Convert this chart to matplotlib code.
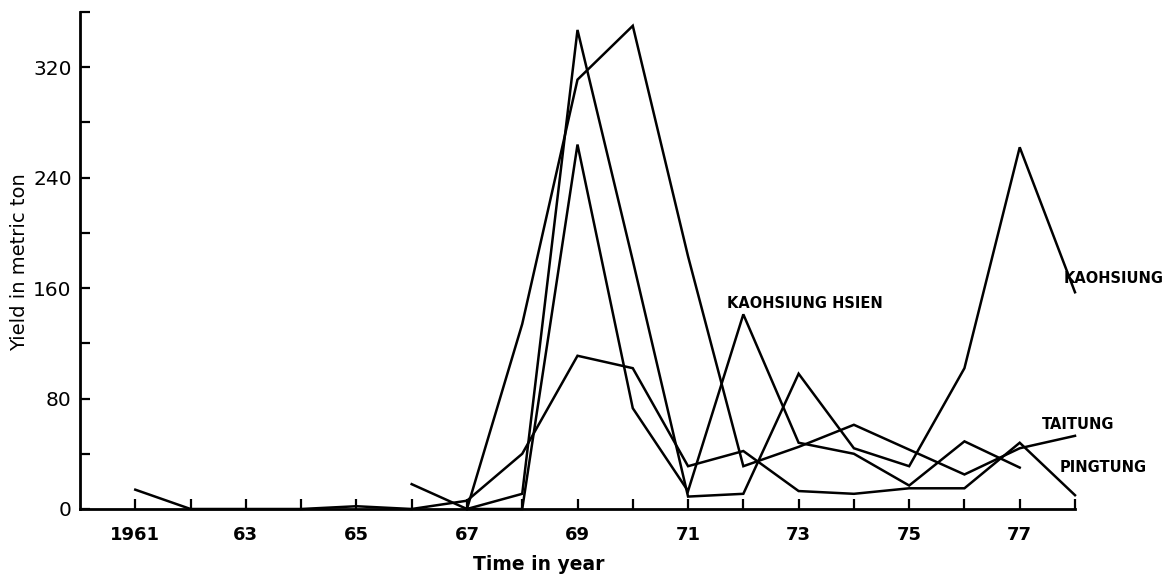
import numpy as np
import matplotlib
matplotlib.use("Agg")
import matplotlib.pyplot as plt

nan = np.nan

years = list(range(1961, 1979))

kaohsiung = [nan, nan, nan, nan, nan, nan,
             0, 11, 347, 180, 9, 11, 98, 44, 31, 102, 262, 157]
kaohsiung_hsien = [nan, nan, nan, nan, nan, nan,
                   0, 0, 264, 73, 13, 141, 48, 40, 17, 49, 30, nan]
taitung = [nan, nan, nan, nan, nan,
           18, 0, 134, 311, 350, 183, 31, 45, 61, 43, 25, 44, 53]
pingtung = [14, 0, 0, 0, 2, 0,
            6, 40, 111, 102, 31, 42, 13, 11, 15, 15, 48, 10]

series = {
    "KAOHSIUNG": kaohsiung,
    "KAOHSIUNG HSIEN": kaohsiung_hsien,
    "TAITUNG": taitung,
    "PINGTUNG": pingtung,
}

label_pos = {
    "KAOHSIUNG": (1977.8, 167),
    "KAOHSIUNG HSIEN": (1971.7, 149),
    "TAITUNG": (1977.4, 61),
    "PINGTUNG": (1977.73, 30),
}

xtick_years = list(range(1961, 1979))
xtick_labels = ["1961" if y == 1961 else (f"{y % 100:02d}" if y % 2 == 1 and y < 1978 else "")
                for y in xtick_years]
ytick_vals = list(range(0, 361, 40))
ytick_labels = [str(v) if v % 80 == 0 and v < 360 else "" for v in ytick_vals]

plt.rcParams['font.family'] = ['DejaVu Sans']

fig = plt.figure(figsize=(11.73, 5.80), dpi=100)
ax = fig.add_axes([80 / 1173, 1 - 509 / 580, 995 / 1173, 497 / 580])

for name, vals in series.items():
    ax.plot(years, vals, color="black", linewidth=1.8, clip_on=False,
            solid_joinstyle="miter")

for name, (lx, ly) in label_pos.items():
    ax.text(lx, ly, name, ha="left", va="center", fontsize=10.5,
            fontweight="bold", color="black")

ax.set_xlim(1960, 1978)
ax.set_ylim(0, 360)

for s in ["top", "right"]:
    ax.spines[s].set_visible(False)
for s in ["left", "bottom"]:
    ax.spines[s].set_linewidth(2.0)
    ax.spines[s].set_color("black")

ax.set_xticks(xtick_years)
ax.set_xticklabels(xtick_labels, fontsize=13, fontweight="bold")
ax.set_yticks(ytick_vals)
ax.set_yticklabels(ytick_labels, fontsize=14.5)

ax.tick_params(axis="x", direction="in", length=7, width=1.6, pad=12)
ax.tick_params(axis="y", direction="in", length=7, width=1.6, pad=6)

ax.set_xlabel("Time in year", fontsize=13.5, fontweight="bold", va="center")
ax.xaxis.set_label_coords((539 - 80) / 995, -(565 - 509) / 497)
ax.set_ylabel("Yield in metric ton", fontsize=14, va="center", ha="center")
ax.yaxis.set_label_coords((20 - 80) / 995, (509 - 262) / 497)

fig.savefig("out.png", dpi=100)
